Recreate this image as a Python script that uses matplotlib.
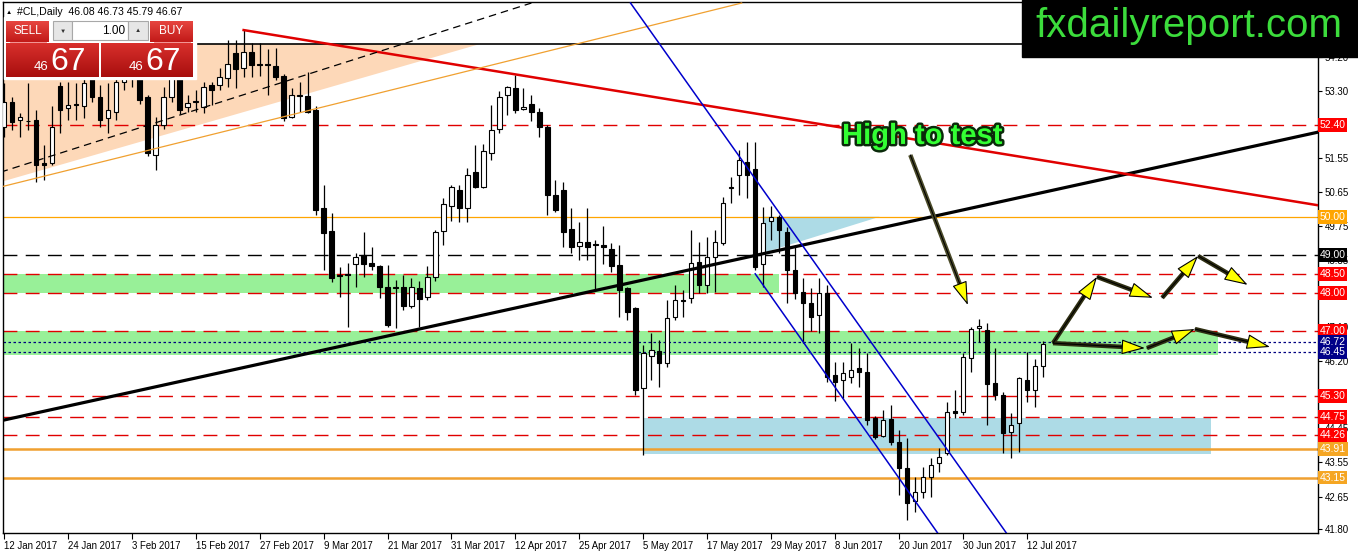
import numpy as np
import pandas as pd
import matplotlib
matplotlib.use('Agg')
import matplotlib.pyplot as plt
from matplotlib.patches import Rectangle, Polygon
from matplotlib.colors import LinearSegmentedColormap
from matplotlib import patheffects as pe

plt.rcParams['font.family'] = ['Liberation Sans', 'DejaVu Sans']

# daily OHLC (12 Jan 2017 .. 14 Jul 2017)
opens = [52.35, 53.01, 52.55, 52.52, 52.54, 51.40, 51.41, 53.43, 52.85, 52.96,
         52.90, 53.80, 53.15, 52.60, 52.75, 53.53, 53.80, 53.68, 53.15, 51.62,
         52.40, 53.15, 53.80, 52.88, 53.00, 52.88, 53.46, 53.46, 53.64, 54.30,
         53.90, 54.33, 54.00, 54.00, 53.95, 53.70, 52.62, 53.17, 53.17, 52.80,
         50.23, 49.62, 48.47, 48.50, 48.76, 48.99, 48.79, 48.71, 48.15, 48.15,
         48.15, 47.66, 48.13, 47.89, 48.42, 49.62, 50.28, 50.70, 50.23, 51.17,
         50.78, 51.67, 52.30, 53.20, 53.38, 52.83, 52.96, 52.75, 52.36, 50.57,
         50.70, 49.68, 49.23, 49.33, 49.26, 49.26, 49.15, 48.73, 48.13, 47.60,
         45.50, 46.35, 46.47, 46.15, 47.37, 47.80, 47.87, 48.81, 48.20, 48.94,
         49.31, 50.76, 51.09, 51.44, 51.25, 48.76, 49.90, 49.99, 49.60, 48.60,
         48.02, 47.73, 47.42, 47.99, 45.84, 45.71, 45.79, 46.03, 45.92, 44.71,
         44.24, 44.69, 44.08, 43.40, 42.54, 42.77, 43.17, 43.54, 43.80, 44.89,
         44.87, 46.30, 47.07, 47.02, 45.63, 45.32, 44.35, 44.58, 45.71, 45.45,
         46.08]
highs = [53.50, 53.14, 52.72, 53.50, 52.80, 51.88, 52.90, 53.54, 53.54, 53.50,
         53.70, 54.00, 53.45, 53.50, 53.80, 53.90, 54.10, 53.90, 53.20, 52.62,
         53.40, 53.95, 54.00, 53.20, 53.33, 53.53, 53.54, 53.90, 54.65, 54.65,
         54.90, 54.56, 54.56, 54.40, 54.43, 53.75, 53.38, 53.54, 53.80, 52.90,
         50.83, 50.10, 48.68, 48.78, 49.05, 49.60, 49.20, 48.73, 48.73, 48.34,
         48.47, 48.40, 48.30, 48.70, 49.65, 50.50, 50.83, 50.83, 51.28, 51.88,
         51.90, 52.93, 53.30, 53.43, 53.72, 53.38, 53.20, 52.85, 52.40, 50.96,
         50.90, 50.23, 49.86, 50.23, 49.40, 49.75, 49.30, 49.25, 48.15, 47.63,
         46.63, 46.95, 46.76, 47.81, 48.20, 48.08, 49.65, 49.33, 49.47, 49.65,
         50.52, 51.04, 51.75, 51.96, 51.96, 50.25, 50.28, 50.05, 49.73, 49.20,
         48.40, 48.13, 48.39, 48.20, 46.18, 46.18, 46.68, 46.55, 46.42, 44.77,
         44.92, 45.06, 44.40, 44.19, 43.17, 43.43, 43.67, 43.93, 45.13, 45.45,
         46.42, 47.10, 47.31, 47.21, 46.55, 45.40, 44.85, 45.79, 46.45, 46.26,
         46.73]
lows = [52.09, 52.28, 52.09, 52.28, 50.91, 50.96, 51.36, 52.20, 52.54, 52.54,
        52.60, 53.00, 52.35, 52.20, 52.55, 53.33, 53.40, 52.95, 51.60, 51.23,
        52.30, 53.00, 52.70, 52.75, 52.75, 52.72, 52.93, 53.33, 53.40, 53.38,
        53.67, 53.67, 53.70, 53.20, 53.58, 52.50, 52.60, 52.75, 52.72, 50.05,
        48.60, 48.29, 47.89, 47.10, 48.15, 48.42, 48.60, 47.86, 47.10, 47.08,
        47.55, 47.60, 47.10, 47.81, 48.30, 49.25, 49.90, 49.86, 49.86, 50.75,
        50.75, 51.49, 52.20, 52.67, 52.72, 52.80, 52.51, 52.09, 50.05, 50.12,
        49.20, 49.05, 48.86, 48.86, 48.10, 48.77, 48.55, 47.37, 47.29, 45.32,
        43.75, 45.70, 45.53, 46.05, 47.29, 47.37, 47.73, 48.00, 48.00, 48.02,
        49.26, 50.36, 50.57, 50.50, 48.60, 48.15, 49.40, 49.05, 47.73, 47.85,
        46.69, 47.00, 46.94, 45.66, 45.17, 45.24, 45.63, 45.53, 44.53, 44.15,
        44.21, 44.00, 42.70, 42.04, 42.25, 42.62, 42.64, 43.30, 43.74, 44.72,
        44.80, 45.92, 46.70, 44.53, 45.19, 43.80, 43.67, 43.82, 45.13, 45.00,
        45.79]
closes = [53.01, 52.49, 52.63, 52.50, 51.36, 51.35, 52.35, 52.80, 52.93, 52.94,
          53.50, 53.15, 52.55, 52.80, 53.54, 53.64, 53.80, 53.06, 51.67, 52.40,
          53.15, 53.70, 52.80, 52.98, 53.02, 53.41, 53.33, 53.67, 54.00, 53.88,
          54.33, 53.98, 53.98, 53.98, 53.66, 52.60, 53.20, 53.19, 52.75, 50.18,
          49.57, 48.39, 48.45, 48.47, 48.94, 48.76, 48.71, 48.15, 47.16, 48.13,
          47.66, 48.15, 47.84, 48.42, 49.60, 50.33, 50.78, 50.23, 51.10, 50.78,
          51.72, 52.27, 53.14, 53.40, 52.80, 52.88, 52.75, 52.36, 50.57, 50.18,
          49.60, 49.20, 49.33, 49.20, 49.25, 49.20, 48.70, 48.07, 47.50, 45.45,
          46.42, 46.50, 46.15, 47.34, 47.81, 47.78, 48.78, 48.20, 48.94, 49.33,
          50.36, 50.76, 51.49, 51.10, 48.68, 49.83, 50.00, 49.65, 48.60, 48.00,
          47.73, 47.37, 47.99, 45.79, 45.66, 45.90, 45.97, 45.92, 44.66, 44.21,
          44.66, 44.08, 43.40, 42.48, 42.77, 43.17, 43.49, 43.69, 44.87, 44.85,
          46.32, 47.05, 47.14, 45.61, 45.32, 44.32, 44.53, 45.76, 45.45, 46.08,
          46.67]

dates = pd.bdate_range('2017-01-12', '2017-07-14')
dates = dates[dates != pd.Timestamp('2017-04-14')]

y_ticks = [54.20, 53.30, 52.40, 51.55, 50.65, 49.75, 48.85, 48.00, 47.10,
           46.20, 45.30, 44.45, 43.55, 42.65, 41.80]

# horizontal levels and their tag colours
level_prices = [52.40, 50.00, 49.00, 48.50, 48.00, 47.00, 46.72, 46.45,
                45.30, 44.75, 44.26, 43.91, 43.15]
level_kinds = ['red', 'orange_thin', 'black', 'red', 'red', 'red', 'navy', 'navy',
               'red', 'red', 'red', 'orange', 'orange']
top_line = 54.53

# drawn objects (bar index, price)
trend_black = [(0, 44.66), (164.4, 52.22)]
trend_red = [(30, 54.90), (164.4, 50.30)]
dash_black = [(-0.4, 51.17), (66, 55.61)]
orange_thin = [(-0.4, 50.78), (92.3, 55.61)]
blue_a = [(78.4, 55.61), (125.4, 41.70)]
blue_b = [(94, 48.50), (116.8, 41.70)]
peach_zone = [(-0.4, 54.53), (-0.4, 50.91), (59.5, 54.53)]
blue_tri = [(95, 50.00), (109.6, 50.00), (95, 49.05)]
green_zones = [(-0.4, 97, 48.00, 48.50), (-0.4, 151.9, 46.38, 47.00)]
blue_zone = (80, 151, 43.77, 44.72)
arrows = [((131.25, 46.68), (136.75, 48.42)),
          ((136.75, 48.42), (143.75, 47.87)),
          ((144.9, 47.87), (149.4, 48.97)),
          ((149.4, 48.97), (155.6, 48.21)),
          ((131.25, 46.68), (142.75, 46.55)),
          ((143.0, 46.55), (149.0, 47.05)),
          ((149.0, 47.05), (158.4, 46.58))]
note_arrow = ((113.4, 51.62), (120.6, 47.68))

W, H = 1358, 554
fig = plt.figure(figsize=(W / 100, H / 100), dpi=100)
fig.patch.set_facecolor('white')
ax = fig.add_axes([3 / W, 21 / H, 1315 / W, 531 / H])
ax.set_xlim(-0.1, 164.4)
ax.set_ylim(41.695, 55.637)

# zones
ax.add_patch(Polygon(peach_zone, closed=True, color='#FDD8B8', lw=0, zorder=1))
for x0, x1, p0, p1 in green_zones:
    ax.add_patch(Rectangle((x0, p0), x1 - x0, p1 - p0, color='#98F098', lw=0, zorder=1))
bx0, bx1, bp0, bp1 = blue_zone
ax.add_patch(Rectangle((bx0, bp0), bx1 - bx0, bp1 - bp0, color='#ADDBE6', lw=0, zorder=1))
ax.add_patch(Polygon(blue_tri, closed=True, color='#ADDBE6', lw=0, zorder=1))

# horizontal levels
tag_bg = {'red': '#FF0000', 'orange_thin': '#FFA500', 'orange': '#F5A623',
          'black': '#000000', 'navy': '#000088'}
for p, k in zip(level_prices, level_kinds):
    if k == 'red':
        ax.axhline(p, color='#E00000', lw=1, dashes=(10, 6), zorder=2)
    elif k == 'black':
        ax.axhline(p, color='black', lw=1, dashes=(10, 6), zorder=2)
    elif k == 'navy':
        ax.axhline(p, color='#000080', lw=0.9, dashes=(2, 2), zorder=2)
    elif k == 'orange_thin':
        ax.axhline(p, color='#FFA500', lw=0.9, zorder=2)
    else:
        ax.axhline(p, color='#F0A030', lw=1.8, zorder=2)
    ax.text(1.0012, p, '%.2f' % p, transform=ax.get_yaxis_transform(),
            ha='left', va='center', fontsize=7.5, color='white', clip_on=False,
            zorder=6, bbox=dict(boxstyle='square,pad=0.18', fc=tag_bg[k], ec='none'))
ax.axhline(top_line, color='black', lw=1.2, zorder=2)

# candles
x = np.arange(len(closes))
o = np.array(opens)
c = np.array(closes)
ax.vlines(x, lows, highs, color='black', lw=0.9, zorder=3)
body_lo = np.minimum(o, c)
body_h = np.maximum(np.abs(c - o), 0.025)
fills = ['white' if cc >= oo else 'black' for oo, cc in zip(o, c)]
ax.bar(x, body_h, bottom=body_lo, width=0.55, color=fills, edgecolor='black',
       linewidth=0.8, zorder=3)

# trend lines
for pts, col, lw in [(trend_black, 'black', 2.3), (trend_red, '#E00000', 1.8),
                     (orange_thin, '#F0A030', 0.9), (blue_a, '#0000CC', 1.1),
                     (blue_b, '#0000CC', 1.1)]:
    ax.plot([pts[0][0], pts[1][0]], [pts[0][1], pts[1][1]], color=col, lw=lw, zorder=4)
ax.plot([dash_black[0][0], dash_black[1][0]], [dash_black[0][1], dash_black[1][1]],
        color='black', lw=0.9, dashes=(6, 4), zorder=4)


def draw_arrow(p0, p1, shaft):
    a = ax.transData.transform(p0)
    b = ax.transData.transform(p1)
    L = np.hypot(*(b - a))
    cut = ax.transData.inverted().transform(b - (b - a) * 14 / L)
    ax.plot([p0[0], cut[0]], [p0[1], cut[1]], color=shaft, lw=3.2,
            solid_capstyle='butt', zorder=5)
    ax.annotate('', xy=p1, xytext=p0,
                arrowprops=dict(arrowstyle='-|>,head_length=1.5,head_width=0.48',
                                fc='#FFFF00', ec='black', lw=0.8,
                                shrinkA=0, shrinkB=0), zorder=6)


for p0, p1 in arrows:
    draw_arrow(p0, p1, '#2E2E12')
draw_arrow(note_arrow[0], note_arrow[1], '#4A4A28')

ax.text(114.9, 52.12, 'High to test', fontsize=21, fontweight='bold', color='#33FF33',
        ha='center', va='center', zorder=7,
        path_effects=[pe.withStroke(linewidth=3.5, foreground='#0A2A0A')])

# axes styling
xt = list(range(0, len(dates), 8))
ax.set_xticks(xt)
ax.set_xticklabels(['%d %s' % (dates[i].day, dates[i].strftime('%b %Y')) for i in xt])
for lab in ax.get_xticklabels():
    lab.set_horizontalalignment('left')
ax.set_yticks(y_ticks)
# ticks that sit exactly under a price tag show no own label
ax.set_yticklabels(['' if any(abs(v - p) < 0.005 for p in level_prices) else '%.2f' % v
                    for v in y_ticks])
ax.yaxis.tick_right()
ax.tick_params(axis='y', direction='out', length=3, pad=2, labelsize=7)
ax.tick_params(axis='x', direction='out', length=4, pad=2, labelsize=6.9)
for s in ax.spines.values():
    s.set_linewidth(1)

# overlay: trade panel and logo (pixel coordinates)
ov = fig.add_axes([0, 0, 1, 1], zorder=10)
ov.patch.set_alpha(0)
ov.axis('off')


def red_box(x0, y0, x1, y1, top, bot):
    grad = np.linspace(0, 1, 32)[:, None]
    cm = LinearSegmentedColormap.from_list('g', [top, bot])
    ov.imshow(grad, cmap=cm, extent=(x0, x1, y1, y0), aspect='auto', origin='upper', zorder=2)


ov.add_patch(Rectangle((4, 17), 192, 62, color='white', zorder=1))
red_box(6, 21, 49, 42, '#E64540', '#C21A18')
red_box(150, 21, 193, 42, '#E64540', '#C21A18')
red_box(6, 43, 99, 77, '#D8302C', '#A80E0E')
red_box(101, 43, 193, 77, '#D8302C', '#A80E0E')
ov.plot([10, 46], [42, 42], color='#F08080', lw=0.6, zorder=3)
ov.plot([154, 190], [42, 42], color='#F08080', lw=0.6, zorder=3)
ov.add_patch(Rectangle((53, 21), 19, 19, fc='#E6E6E6', ec='#A8A8A8', lw=0.8, zorder=2))
ov.add_patch(Rectangle((72, 21), 56, 19, fc='white', ec='#A8A8A8', lw=0.8, zorder=2))
ov.add_patch(Rectangle((128, 21), 20, 19, fc='#E6E6E6', ec='#A8A8A8', lw=0.8, zorder=2))
ov.text(62.5, 31, '▼', fontsize=4.5, ha='center', va='center', color='#333333', zorder=4)
ov.text(138, 30, '▲', fontsize=4.5, ha='center', va='center', color='#333333', zorder=4)
ov.text(125, 30.5, '1.00', fontsize=8.5, ha='right', va='center', color='black', zorder=4)
ov.text(27.5, 31.5, 'SELL', fontsize=8.5, ha='center', va='center', color='white', zorder=4)
ov.text(171.5, 31.5, 'BUY', fontsize=8.5, ha='center', va='center', color='white', zorder=4)
for cx in (41, 136):
    ov.text(cx, 70, '46', fontsize=9.5, ha='center', va='baseline', color='white', zorder=4)
    ov.text(cx + 27, 70, '67', fontsize=23, ha='center', va='baseline', color='white', zorder=4)
ov.text(6, 12, '▲', fontsize=4.5, ha='left', va='center', color='black', zorder=4)
ov.text(17, 12, '#CL,Daily  46.08 46.73 45.79 46.67', fontsize=7.6, ha='left',
        va='center', color='black', zorder=4)

ov.add_patch(Rectangle((1022, 0), 336, 57, color='black', zorder=1))
ov.text(1189, 37, 'fxdailyreport.com', fontsize=29, ha='center', va='baseline',
        color='#3CDC3C', zorder=4)
ov.set_xlim(0, W)
ov.set_ylim(H, 0)

fig.savefig('out.png', dpi=100)
